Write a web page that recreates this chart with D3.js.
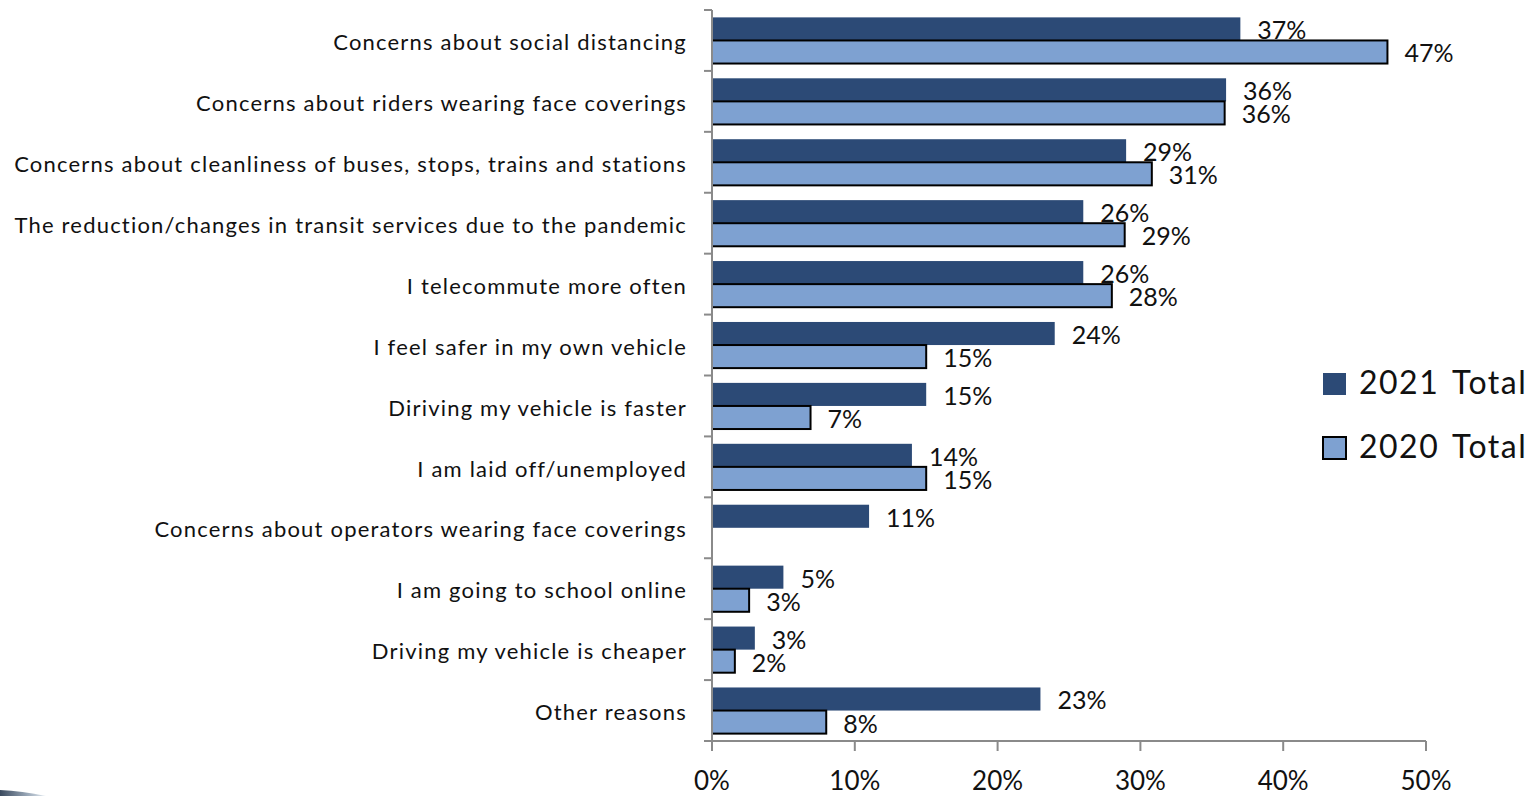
<!DOCTYPE html>
<html>
<head>
<meta charset="utf-8">
<script src="https://cdn.jsdelivr.net/npm/d3@7"></script>
<style>
  html, body { margin: 0; padding: 0; background: #ffffff; }
  svg { display: block; }
  text { font-family: Lato, "Open Sans", sans-serif; fill: #111; }
</style>
</head>
<body>
<svg id="chart" width="1537" height="796"></svg>
<script>
// Reasons for riding transit less, share of respondents
const categories = [
  "Concerns about social distancing",
  "Concerns about riders wearing face coverings",
  "Concerns about cleanliness of buses, stops, trains and stations",
  "The reduction/changes in transit services due to the pandemic",
  "I telecommute more often",
  "I feel safer in my own vehicle",
  "Diriving my vehicle is faster",
  "I am laid off/unemployed",
  "Concerns about operators wearing face coverings",
  "I am going to school online",
  "Driving my vehicle is cheaper",
  "Other reasons"
];
const seriesNames = ["2021 Total", "2020 Total"];
const values2021 = [37, 36, 29, 26, 26, 24, 15, 14, 11, 5, 3, 23];
const values2020 = [47.3, 35.9, 30.8, 28.9, 28, 15, 6.9, 15, null, 2.6, 1.6, 8];
const xTicks = [0, 10, 20, 30, 40, 50];

const colors = { "2021 Total": "#2c4a76", "2020 Total": "#7ea1d1" };

const svg = d3.select("#chart");

const x = d3.scaleLinear().domain([0, 50]).range([712, 1426]);
const y = d3.scaleBand().domain(categories).range([10, 741]);
const ySub = d3.scaleBand().domain(seriesNames).range([0, y.bandwidth()]).paddingOuter(0.32);

const rows = categories.map((c, i) => ({
  category: c,
  items: [
    { series: "2021 Total", value: values2021[i] },
    { series: "2020 Total", value: values2020[i] }
  ].filter(d => d.value != null)
}));

// Bars
const groups = svg.append("g").selectAll("g")
  .data(rows).join("g")
  .attr("transform", d => `translate(0,${y(d.category)})`);

groups.selectAll("rect")
  .data(d => d.items).join("rect")
  .attr("x", x(0))
  .attr("y", d => ySub(d.series))
  .attr("width", d => x(d.value) - x(0))
  .attr("height", ySub.bandwidth())
  .attr("fill", d => colors[d.series])
  .attr("stroke", d => d.series === "2020 Total" ? "#000" : "none")
  .attr("stroke-width", 2);

// Value labels
groups.selectAll("text.val")
  .data(d => d.items).join("text")
  .attr("class", "val")
  .attr("x", d => x(d.value) + 17)
  .attr("y", d => ySub(d.series) + ySub.bandwidth() / 2)
  .attr("dy", "0.42em")
  .style("font-size", "25px")
  .text(d => Math.round(d.value) + "%");

// Category axis
const yAxis = svg.append("g").attr("transform", `translate(${x(0)},0)`);
yAxis.append("line")
  .attr("x1", 0).attr("x2", 0).attr("y1", 10).attr("y2", 741)
  .attr("stroke", "#8a8a8a").attr("stroke-width", 2);
const boundaries = categories.map(c => y(c)).concat([y.range()[1]]);
yAxis.selectAll("line.tick")
  .data(boundaries).join("line")
  .attr("class", "tick")
  .attr("x1", -8).attr("x2", 0)
  .attr("y1", d => d).attr("y2", d => d)
  .attr("stroke", "#8a8a8a").attr("stroke-width", 2);

svg.append("g").selectAll("text")
  .data(categories).join("text")
  .attr("x", 687)
  .attr("y", d => y(d) + y.bandwidth() / 2)
  .attr("dy", "0.44em")
  .attr("text-anchor", "end")
  .style("font-size", "22px")
  .style("letter-spacing", "1.2px")
  .text(d => d);

// Value axis
const xAxis = svg.append("g").attr("transform", "translate(0,741)");
xAxis.append("line")
  .attr("x1", x(0)).attr("x2", x(50)).attr("y1", 0).attr("y2", 0)
  .attr("stroke", "#8a8a8a").attr("stroke-width", 2);
xAxis.selectAll("line.tick")
  .data(xTicks).join("line")
  .attr("class", "tick")
  .attr("x1", d => x(d)).attr("x2", d => x(d))
  .attr("y1", 0).attr("y2", 10)
  .attr("stroke", "#8a8a8a").attr("stroke-width", 2);
xAxis.selectAll("text")
  .data(xTicks).join("text")
  .attr("x", d => x(d))
  .attr("y", 49)
  .attr("text-anchor", "middle")
  .style("font-size", "26px")
  .text(d => d + "%");

// Legend
const legend = svg.append("g").attr("transform", "translate(1323,373)");
const legendItems = legend.selectAll("g")
  .data(seriesNames).join("g")
  .attr("transform", (d, i) => `translate(0,${i * 64})`);
legendItems.append("rect")
  .attr("width", 23).attr("height", 22)
  .attr("fill", d => colors[d])
  .attr("stroke", d => d === "2020 Total" ? "#000" : "none")
  .attr("stroke-width", 2);
legendItems.append("text")
  .attr("x", 36).attr("y", 21)
  .style("font-size", "32px")
  .style("letter-spacing", "1.5px")
  .style("word-spacing", "4px")
  .text(d => d);

// Corner swoosh of the slide background
const grad = svg.append("defs").append("linearGradient")
  .attr("id", "swoosh").attr("x1", "0").attr("x2", "1");
grad.append("stop").attr("offset", "0").attr("stop-color", "#3a4a5e");
grad.append("stop").attr("offset", "0.6").attr("stop-color", "#9aa8b8");
grad.append("stop").attr("offset", "1").attr("stop-color", "#e6edf3");
svg.append("path")
  .attr("d", "M0,790 Q22,791 46,796 L0,796 Z")
  .attr("fill", "url(#swoosh)");
</script>
</body>
</html>
